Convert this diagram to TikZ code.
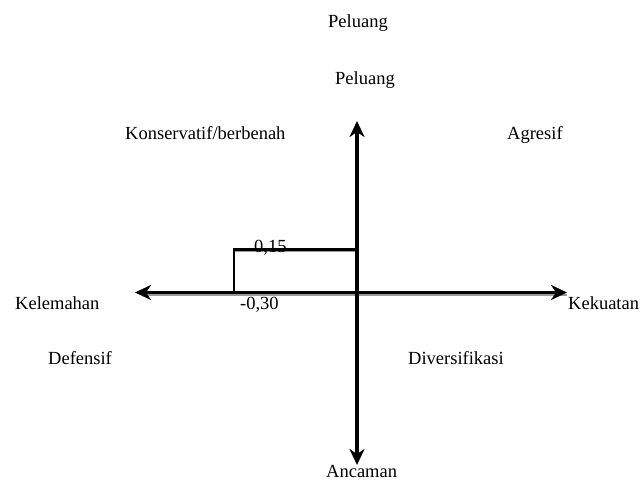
\documentclass[tikz,border=0pt]{standalone}
\usepackage{fontspec}
\setmainfont{Liberation Serif}
\usetikzlibrary{arrows.meta}
\begin{document}
\begin{tikzpicture}[x=1pt,y=-1pt,
  lbl/.style={anchor=base west, inner sep=0pt, font=\fontsize{18.5}{20}\selectfont},
  axisline/.style={line width=3.4pt, {Stealth[length=16pt,width=15pt,inset=5pt]}-{Stealth[length=16pt,width=15pt,inset=5pt]}},
  boxline/.style={line width=2.2pt},
  shadowline/.style={line width=2.2pt, black!40}]
\useasboundingbox (0,0) rectangle (640,481);
% coordinates
\coordinate (top) at (357,121);
\coordinate (bot) at (357,465);
\coordinate (lft) at (135,292.5);
\coordinate (rgt) at (567,292.5);
\coordinate (r1) at (234,292.5);
\coordinate (r2) at (234,249.5);
\coordinate (r3) at (357,249.5);
% shadows
\draw[shadowline] ([yshift=-2.2pt]lft) ++(10,0) -- ([yshift=-2.2pt]rgt);
\draw[shadowline] ([yshift=-1.8pt]r2) -- ([yshift=-1.8pt]r3);
% rectangle
\draw[boxline] (r1) -- (r2) -- (r3);
% axes
\draw[axisline] (lft) -- (rgt);
\draw[axisline] (top) -- (bot);
% labels
\node[lbl] (p1) at (328,28) {Peluang};
\node[lbl] (p2) at (335,85) {Peluang};
\node[lbl] (kons) at (125,140) {Konservatif/berbenah};
\node[lbl] (agr) at (507,140) {Agresif};
\node[lbl] (kel) at (15,309) {Kelemahan};
\node[lbl] (kek) at (568,309) {Kekuatan};
\node[lbl] (def) at (48,364) {Defensif};
\node[lbl] (div) at (408,364) {Diversifikasi};
\node[lbl] (anc) at (326,477) {Ancaman};
\node[lbl] (v1) at (254,252) {0,15};
\node[lbl] (v2) at (240,309) {-0,30};
\end{tikzpicture}
\end{document}
